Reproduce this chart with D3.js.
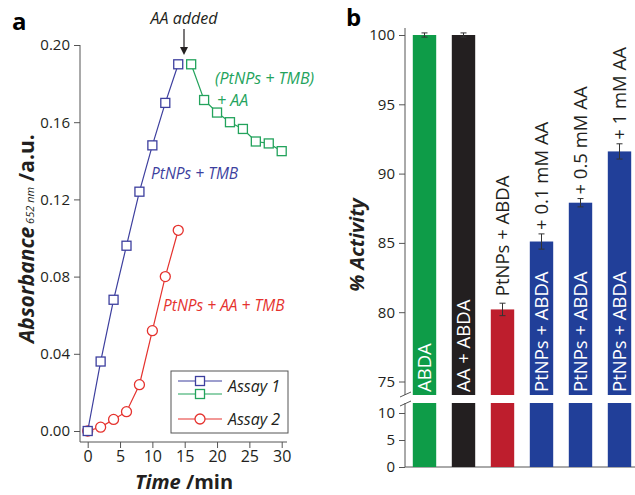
<!DOCTYPE html>
<html>
<head>
<meta charset="utf-8">
<script src="https://cdn.jsdelivr.net/npm/d3@7"></script>
<style>
body { margin:0; background:#fff; }
text { font-family:"Open Sans", sans-serif; }
.tick text { font-size:15px; fill:#231f20; }
.tick line { stroke:#555; }
</style>
</head>
<body>
<div id="chart"></div>
<script>
// panel a data
var time1 = [0, 2, 4, 6, 8, 10, 12, 14];
var abs1 = [0.000, 0.036, 0.068, 0.096, 0.124, 0.148, 0.170, 0.190];
var time1b = [16, 18, 20, 22, 24, 26, 28, 30];
var abs1b = [0.190, 0.1715, 0.165, 0.160, 0.1565, 0.150, 0.149, 0.145];
var time2 = [0, 2, 4, 6, 8, 10, 12, 14];
var abs2 = [0.000, 0.002, 0.006, 0.010, 0.024, 0.052, 0.080, 0.104];
var absErr = 0.0012;
var xTicksA = [0, 5, 10, 15, 20, 25, 30];
var yTicksA = [0.00, 0.04, 0.08, 0.12, 0.16, 0.20];

// panel b data
var barLabels = ["ABDA", "AA + ABDA", "PtNPs + ABDA", "PtNPs + ABDA", "PtNPs + ABDA", "PtNPs + ABDA"];
var barExtra = ["", "", "", "+ 0.1 mM AA", "+ 0.5 mM AA", "+ 1 mM AA"];
var activity = [100, 100, 80.2, 85.1, 87.9, 91.6];
var activityErr = [0.15, 0.15, 0.45, 0.55, 0.3, 0.55];
var barColors = ["#0e9c48", "#231f20", "#be1e2d", "#213f99", "#213f99", "#213f99"];
var yTicksUp = [75, 80, 85, 90, 95, 100];
var yTicksLow = [0, 5, 10];

var blue = "#3d3f9e", green = "#23a35c", red = "#e5322e";

var svg = d3.select("#chart").append("svg")
    .attr("width", 635).attr("height", 495);

// ---------- panel a ----------
var xa = d3.scaleLinear().domain([0, 30]).range([87.7, 281.7]);
var ya = d3.scaleLinear().domain([0, 0.2]).range([431, 45]);

svg.append("text").attr("x", 12).attr("y", 30)
    .style("font-size", "24px").style("font-weight", "bold").text("a");

var gya = svg.append("g").attr("transform", "translate(80,0)")
    .call(d3.axisLeft(ya).tickValues(yTicksA).tickFormat(d3.format(".2f")).tickSize(6).tickPadding(4));
gya.select(".domain").remove();
var gxa = svg.append("g").attr("transform", "translate(0,442)")
    .call(d3.axisBottom(xa).tickValues(xTicksA).tickSize(6).tickPadding(3));
gxa.select(".domain").remove();
gxa.selectAll(".tick text").style("font-size", "16px");
svg.append("line").attr("x1", 80).attr("x2", 80).attr("y1", 45).attr("y2", 442).attr("stroke", "#555");
svg.append("line").attr("x1", 80).attr("x2", 287).attr("y1", 442).attr("y2", 442).attr("stroke", "#555");

// axis titles
svg.append("text").attr("x", 184).attr("y", 489).attr("text-anchor", "middle")
    .style("font-size", "20px").style("font-weight", "bold").style("fill", "#231f20")
    .call(function (t) {
        t.append("tspan").style("font-style", "italic").text("Time");
        t.append("tspan").text(" /min");
    });
svg.append("text").attr("transform", "translate(34,343) rotate(-90)").attr("text-anchor", "start")
    .style("font-weight", "bold").style("fill", "#231f20")
    .call(function (t) {
        t.append("tspan").style("font-style", "italic").style("font-size", "21px").text("Absorbance");
        t.append("tspan").style("font-style", "italic").style("font-weight", "normal").style("font-size", "11px").text(" 652 nm");
        t.append("tspan").style("font-size", "21px").text(" /a.u.");
    });

function series(xs, ys, color, shape) {
    var pts = xs.map(function (x, i) { return {x: x, y: ys[i]}; });
    var line = d3.line().x(function (d) { return xa(d.x); }).y(function (d) { return ya(d.y); });
    svg.append("path").datum(pts).attr("d", line).attr("fill", "none").attr("stroke", color).attr("stroke-width", 1.2);
    var g = svg.append("g");
    g.selectAll("line.err").data(pts).enter().append("line")
        .attr("x1", function (d) { return xa(d.x); }).attr("x2", function (d) { return xa(d.x); })
        .attr("y1", function (d) { return ya(d.y - absErr) + 1; }).attr("y2", function (d) { return ya(d.y + absErr) - 1; })
        .attr("stroke", "#666").attr("stroke-width", 1);
    if (shape == "square") {
        g.selectAll("rect").data(pts).enter().append("rect")
            .attr("x", function (d) { return xa(d.x) - 4.5; }).attr("y", function (d) { return ya(d.y) - 4.5; })
            .attr("width", 9).attr("height", 9)
            .attr("fill", "#fff").attr("stroke", color).attr("stroke-width", 1.3);
    } else {
        g.selectAll("circle").data(pts).enter().append("circle")
            .attr("cx", function (d) { return xa(d.x); }).attr("cy", function (d) { return ya(d.y); })
            .attr("r", 5).attr("fill", "#fff").attr("stroke", color).attr("stroke-width", 1.3);
    }
}
series(time2, abs2, red, "circle");
series(time1, abs1, blue, "square");
series(time1b, abs1b, green, "square");

// annotations
svg.append("text").attr("x", 184).attr("y", 24).attr("text-anchor", "middle")
    .style("font-size", "16px").style("font-style", "italic").style("fill", "#231f20").text("AA added");
svg.append("line").attr("x1", 184).attr("x2", 184).attr("y1", 29).attr("y2", 48).attr("stroke", "#231f20").attr("stroke-width", 1.2);
svg.append("path").attr("d", "M180,47 L188,47 L184,55 Z").attr("fill", "#231f20");

svg.append("text").attr("x", 151).attr("y", 179)
    .style("font-size", "15.5px").style("font-style", "italic").style("fill", blue).text("PtNPs + TMB");
svg.append("text").attr("x", 215).attr("y", 84)
    .style("font-size", "16px").style("font-style", "italic").style("fill", green).text("(PtNPs + TMB)");
svg.append("text").attr("x", 217).attr("y", 106)
    .style("font-size", "16px").style("font-style", "italic").style("fill", green).text("+ AA");
svg.append("text").attr("x", 163).attr("y", 311)
    .style("font-size", "15.5px").style("font-style", "italic").style("fill", red).text("PtNPs + AA + TMB");

// legend
svg.append("rect").attr("x", 171).attr("y", 371).attr("width", 117).attr("height", 62)
    .attr("fill", "#fff").attr("stroke", "#555").attr("stroke-width", 1);
var legend = [{c: blue, s: "square", y: 381}, {c: green, s: "square", y: 394}, {c: red, s: "circle", y: 419}];
legend.forEach(function (d) {
    svg.append("line").attr("x1", 178).attr("x2", 222).attr("y1", d.y).attr("y2", d.y).attr("stroke", d.c).attr("stroke-width", 1.2);
    if (d.s == "square") {
        svg.append("rect").attr("x", 195.5).attr("y", d.y - 4.5).attr("width", 9).attr("height", 9)
            .attr("fill", "#fff").attr("stroke", d.c).attr("stroke-width", 1.3);
    } else {
        svg.append("circle").attr("cx", 200).attr("cy", d.y).attr("r", 5)
            .attr("fill", "#fff").attr("stroke", d.c).attr("stroke-width", 1.3);
    }
});
svg.append("text").attr("x", 228).attr("y", 392).style("font-size", "16px").style("font-style", "italic").style("fill", "#231f20").text("Assay 1");
svg.append("text").attr("x", 228).attr("y", 425).style("font-size", "16px").style("font-style", "italic").style("fill", "#231f20").text("Assay 2");

// ---------- panel b ----------
var xb = d3.scaleBand().domain(d3.range(activity.length)).range([405, 639]).paddingInner(0.4).paddingOuter(0.2);
var yUp = d3.scaleLinear().domain([75, 100]).range([381.5, 35]);
var yLow = d3.scaleLinear().domain([0, 10]).range([467, 413]);
var breakTop = 395, breakBot = 403;

svg.append("text").attr("x", 346).attr("y", 26)
    .style("font-size", "24px").style("font-weight", "bold").text("b");

var gyu = svg.append("g").attr("transform", "translate(405,0)")
    .call(d3.axisLeft(yUp).tickValues(yTicksUp).tickSize(6).tickPadding(4));
gyu.select(".domain").remove();
var gyl = svg.append("g").attr("transform", "translate(405,0)")
    .call(d3.axisLeft(yLow).tickValues(yTicksLow).tickSize(6).tickPadding(4));
gyl.select(".domain").remove();
svg.append("line").attr("x1", 405).attr("x2", 405).attr("y1", 28).attr("y2", breakTop).attr("stroke", "#555");
svg.append("line").attr("x1", 405).attr("x2", 405).attr("y1", breakBot).attr("y2", 467).attr("stroke", "#555");
svg.append("line").attr("x1", 405).attr("x2", 635).attr("y1", 467).attr("y2", 467).attr("stroke", "#555");
svg.append("line").attr("x1", 400).attr("x2", 411).attr("y1", breakTop + 2).attr("y2", breakTop - 3).attr("stroke", "#555");
svg.append("line").attr("x1", 400).attr("x2", 411).attr("y1", breakBot + 3).attr("y2", breakBot - 2).attr("stroke", "#555");

svg.append("text").attr("transform", "translate(364,245) rotate(-90)").attr("text-anchor", "middle")
    .style("font-size", "20px").style("font-weight", "bold").style("font-style", "italic").style("fill", "#231f20")
    .text("% Activity");

var bars = svg.append("g").selectAll("g").data(activity).enter().append("g");
bars.append("rect")
    .attr("x", function (d, i) { return xb(i); }).attr("width", xb.bandwidth())
    .attr("y", function (d) { return yUp(d); }).attr("height", function (d) { return breakTop - yUp(d); })
    .attr("fill", function (d, i) { return barColors[i]; });
bars.append("rect")
    .attr("x", function (d, i) { return xb(i); }).attr("width", xb.bandwidth())
    .attr("y", breakBot).attr("height", 467 - breakBot)
    .attr("fill", function (d, i) { return barColors[i]; });
// error bars
bars.each(function (d, i) {
    var g = d3.select(this), cx = xb(i) + xb.bandwidth() / 2;
    var e = activityErr[i];
    g.append("line").attr("x1", cx).attr("x2", cx).attr("y1", yUp(d - e)).attr("y2", yUp(d + e)).attr("stroke", "#333");
    [d - e, d + e].forEach(function (v) {
        g.append("line").attr("x1", cx - 3).attr("x2", cx + 3).attr("y1", yUp(v)).attr("y2", yUp(v)).attr("stroke", "#333");
    });
});
// bar labels
bars.append("text")
    .attr("transform", function (d, i) {
        var cx = xb(i) + xb.bandwidth() / 2;
        var y0 = i == 2 ? yUp(d + activityErr[i]) - 7 : breakTop - 3;
        return "translate(" + cx + "," + y0 + ") rotate(-90)";
    })
    .attr("dy", "0.36em")
    .style("font-size", "18.5px")
    .style("fill", function (d, i) { return i == 2 ? "#231f20" : "#fff"; })
    .text(function (d, i) { return barLabels[i]; });
bars.append("text")
    .attr("transform", function (d, i) {
        var cx = xb(i) + xb.bandwidth() / 2;
        return "translate(" + cx + "," + (yUp(d + activityErr[i]) - 4) + ") rotate(-90)";
    })
    .attr("dy", "0.36em")
    .style("font-size", "18.5px").style("fill", "#231f20")
    .text(function (d, i) { return barExtra[i]; });
</script>
</body>
</html>
